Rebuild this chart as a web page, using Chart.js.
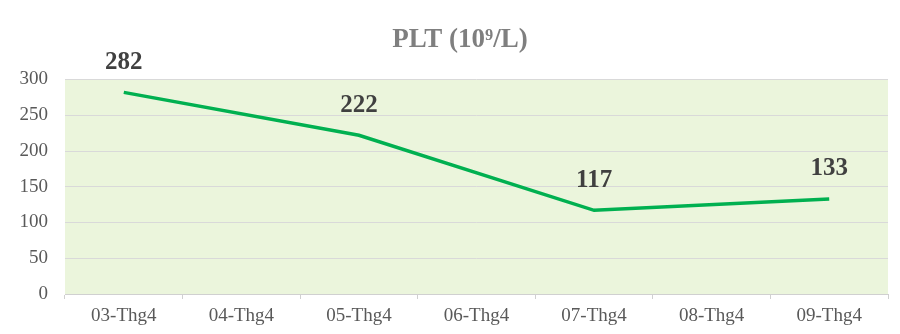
<!DOCTYPE html>
<html>
<head>
<meta charset="utf-8">
<script src="https://cdn.jsdelivr.net/npm/chart.js@4/dist/chart.umd.min.js"></script>
<style>
  html, body { margin: 0; padding: 0; background: #ffffff; }
  #wrap { width: 900px; height: 334px; }
</style>
</head>
<body>
<div id="wrap"><canvas id="c" width="900" height="334"></canvas></div>
<script>
const categories = ["03-Thg4", "04-Thg4", "05-Thg4", "06-Thg4", "07-Thg4", "08-Thg4", "09-Thg4"];
const pltValues = [282, null, 222, null, 117, null, 133];
const yTicks = [0, 50, 100, 150, 200, 250, 300];
const chartTitle = "PLT (10\u2079/L)";

const bgPlugin = {
  id: 'areaBg',
  beforeDraw(chart) {
    const { ctx, chartArea: a } = chart;
    ctx.save();
    ctx.fillStyle = '#ebf5dc';
    ctx.fillRect(a.left, a.top, a.right - a.left, a.bottom - a.top);
    ctx.restore();
  }
};

const titlePlugin = {
  id: 'customTitle',
  afterDraw(chart) {
    const { ctx } = chart;
    ctx.save();
    ctx.font = 'bold 27px "Liberation Serif", "Times New Roman", serif';
    ctx.fillStyle = '#7f7f7f';
    ctx.textAlign = 'center';
    ctx.textBaseline = 'middle';
    ctx.fillText(chartTitle, 460, 40);
    ctx.restore();
  }
};

const labelPlugin = {
  id: 'valueLabels',
  afterDatasetsDraw(chart) {
    const { ctx } = chart;
    const meta = chart.getDatasetMeta(0);
    ctx.save();
    ctx.font = 'bold 25px "Liberation Serif", "Times New Roman", serif';
    ctx.fillStyle = '#404040';
    ctx.textAlign = 'center';
    ctx.textBaseline = 'middle';
    meta.data.forEach((pt, i) => {
      const v = chart.data.datasets[0].data[i];
      if (v === null || v === undefined) return;
      ctx.fillText(String(v), pt.x, pt.y - 30);
    });
    ctx.restore();
  }
};

new Chart(document.getElementById('c'), {
  type: 'line',
  data: {
    labels: categories,
    datasets: [{
      data: pltValues,
      borderColor: '#00b050',
      borderWidth: 3.5,
      pointRadius: 0,
      pointHoverRadius: 0,
      spanGaps: true,
      tension: 0,
      fill: false
    }]
  },
  options: {
    responsive: false,
    animation: false,
    layout: { padding: { left: 0, right: 12, top: 79.5, bottom: 0 } },
    plugins: {
      legend: { display: false },
      tooltip: { enabled: false },
      title: { display: false }
    },
    scales: {
      x: {
        type: 'category',
        offset: true,
        grid: {
          offset: true,
          drawOnChartArea: false,
          drawTicks: true,
          tickLength: 5,
          color: '#d0d0d0'
        },
        border: { display: true, color: '#d0d0d0', width: 1 },
        ticks: {
          color: '#595959',
          padding: 6,
          maxRotation: 0,
          autoSkip: false,
          font: { family: '"Liberation Serif", "Times New Roman", serif', size: 19 }
        },
        afterFit(scale) { scale.height = 40; }
      },
      y: {
        min: 0,
        max: 300,
        afterBuildTicks(scale) { scale.ticks = yTicks.map(v => ({ value: v })); },
        grid: { color: '#d9d9d9', drawTicks: false, lineWidth: 1 },
        border: { display: false },
        ticks: {
          color: '#595959',
          padding: 17,
          font: { family: '"Liberation Serif", "Times New Roman", serif', size: 19 }
        },
        afterFit(scale) { scale.width = 65; }
      }
    }
  },
  plugins: [bgPlugin, labelPlugin, titlePlugin]
});
</script>
</body>
</html>
